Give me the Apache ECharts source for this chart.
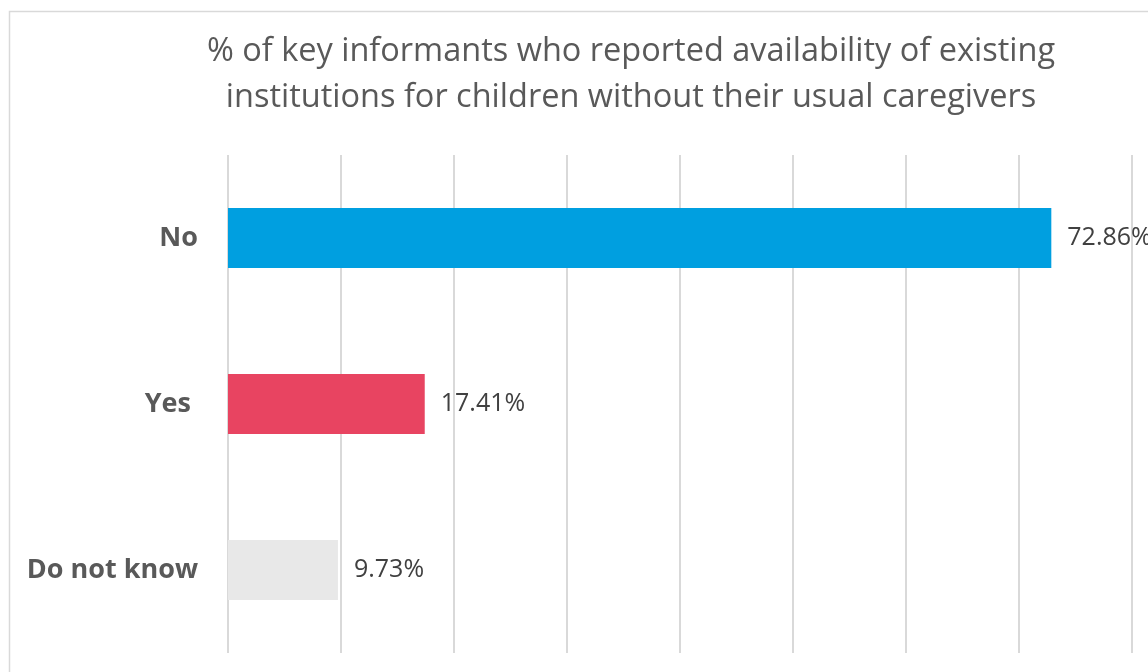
<!DOCTYPE html>
<html>
<head>
<meta charset="utf-8">
<script src="https://cdn.jsdelivr.net/npm/echarts@6/dist/echarts.min.js"></script>
<style>html,body{margin:0;padding:0;background:#fff}#c{width:1148px;height:672px}</style>
</head>
<body>
<div id="c"></div>
<script>
const categories = ['Do not know', 'Yes', 'No'];
const values = [9.73, 17.41, 72.86];
const barColors = ['#E8E8E8', '#E84461', '#009FE0'];
const titleText = '% of key informants who reported availability of existing\ninstitutions for children without their usual caregivers';

const chart = echarts.init(document.getElementById('c'));
chart.setOption({
  animation: false,
  backgroundColor: '#fff',
  title: {
    text: titleText,
    left: 626,
    top: 24,
    textAlign: 'center',
    textStyle: { fontFamily: 'Open Sans', fontSize: 32.5, fontWeight: 'normal', color: '#595959', lineHeight: 46 }
  },
  graphic: [{
    type: 'rect', shape: { x: 9.5, y: 11.5, width: 1242, height: 700 },
    style: { fill: 'none', stroke: '#D9D9D9', lineWidth: 1.5 }, silent: true, z: -1
  }],
  grid: { left: 228, right: 16, top: 155, bottom: 19, containLabel: false },
  xAxis: {
    type: 'value', min: 0, max: 80, interval: 10,
    axisLabel: { show: false }, axisTick: { show: false }, axisLine: { show: false },
    splitLine: { show: true, lineStyle: { color: '#D9D9D9', width: 2 } }
  },
  yAxis: {
    type: 'category', data: categories,
    axisLine: { show: false }, axisTick: { show: false },
    axisLabel: {
      margin: 30, fontFamily: 'Open Sans', fontSize: 27, fontWeight: 'bold', color: '#595959',
      formatter: v => v === 'Yes' ? v + ' ' : v
    }
  },
  series: [{
    type: 'bar',
    data: values.map((v, i) => ({ value: v, itemStyle: { color: barColors[i] } })),
    barWidth: '36%',
    label: {
      show: true, position: 'right', distance: 16,
      formatter: p => p.value.toFixed(2) + '%',
      fontFamily: 'Open Sans', fontSize: 25, color: '#404040'
    }
  }]
});
</script>
</body>
</html>
